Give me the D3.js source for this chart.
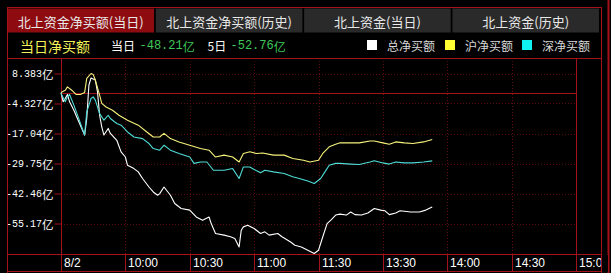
<!DOCTYPE html>
<html><head><meta charset="utf-8">
<script src="https://cdn.jsdelivr.net/npm/d3@7/dist/d3.min.js"></script>
<style>
html,body{margin:0;padding:0;background:#000;overflow:hidden;}
svg{display:block;}
</style></head>
<body>
<svg id="chart" width="611" height="273"></svg>
<script>
// ---------- data ----------
const tabLabels = ["北上资金净买额(当日)", "北上资金净买额(历史)", "北上资金(当日)", "北上资金(历史)"];
const titleText = "当日净买额";
const todayValue = "-48.21亿";
const fiveDayValue = "-52.76亿";
const seriesNames = ["总净买额", "沪净买额", "深净买额"];

// x: trading minutes from 09:30 (0..240, lunch break removed)
const xTickMinutes = [0, 30, 60, 90, 120, 150, 180, 210, 240];
const xTickLabels = ["8/2", "10:00", "10:30", "11:00", "11:30", "13:30", "14:00", "14:30", "15:00"];
const yTicks = [8.383, -4.327, -17.04, -29.75, -42.46, -55.17];
const yMin = -67.88, yMax = 8.383;

// 总净买额 (white)
const totalMinutes = [0,1,2,3,4,6,8,11,12,13,14,16,17,18,19,20,22,23,26,28,30,31,34,36,38,41,43,45,46,48,51,53,56,60,63,66,69,70,72,76,79,81,83,84,85,87,90,93,95,97,101,103,107,109,112,115,118,120,122,124,126,128,130,133,135,137,140,143,146,149,151,153,156,158,163,167,170,173];
const totalValues = [0.3,-3.6,-2.2,-0.5,-3.6,-7.2,-11.4,-17.7,-10.7,3.4,6.5,5.6,0.6,-9.3,-14.2,-17.7,-14.9,-17.0,-19.9,-24.8,-27.0,-30.5,-31.9,-33.3,-36.1,-39.7,-41.8,-43.2,-42.5,-39.7,-43.2,-46.7,-48.8,-49.5,-52.4,-53.8,-52.4,-55.2,-59.4,-60.1,-60.8,-61.5,-65.1,-58.0,-56.6,-55.9,-57.3,-59.4,-58.7,-60.1,-59.4,-60.8,-63.0,-64.4,-65.1,-66.5,-67.88,-66.5,-60.8,-55.2,-53.5,-51.6,-51.2,-51.6,-50.3,-51.4,-51.6,-50.7,-48.8,-49.5,-49.8,-51.4,-50.7,-49.8,-50.3,-50.3,-49.5,-48.21];

// 沪净买额 (yellow)
const shMinutes = [0,2,3,5,7,9,11,12,14,15,16,18,19,21,24,27,31,36,40,43,46,48,51,55,60,65,69,72,76,80,83,85,88,91,94,99,104,108,113,116,120,122,125,128,130,135,139,144,146,150,153,156,160,164,169,173];
const shValues = [0.3,1.3,2.7,1.3,-0.5,-0.5,0.3,6.3,8.383,8.0,5.6,-0.8,-4.3,-5.8,-7.2,-9.3,-11.4,-13.5,-16.4,-18.5,-18.5,-17.0,-19.2,-20.6,-22.0,-23.4,-24.1,-27.0,-26.2,-27.0,-29.1,-25.5,-24.8,-25.5,-25.3,-26.2,-26.2,-27.6,-28.4,-29.1,-28.4,-25.5,-22.7,-21.6,-21.0,-21.0,-21.0,-20.2,-20.2,-21.0,-21.6,-20.6,-21.0,-21.3,-20.6,-19.57];

// 深净买额 (cyan)
const szMinutes = [0,2,3,4,6,8,11,12,14,15,16,18,20,22,23,26,28,31,34,38,41,43,46,48,51,55,60,62,65,68,71,76,80,83,85,88,90,93,95,99,104,108,111,115,118,121,123,125,128,130,135,139,144,146,150,153,156,160,164,169,173];
const szValues = [-0.1,-3.6,-1.5,-0.5,-5.0,-10.0,-17.7,-7.9,-2.2,-1.5,-2.9,-8.6,-11.4,-9.3,-10.7,-12.8,-13.5,-16.4,-18.5,-19.2,-21.3,-23.4,-24.1,-22.0,-24.1,-25.5,-27.0,-29.7,-29.1,-29.1,-32.6,-32.6,-31.9,-36.1,-31.2,-31.2,-32.3,-33.7,-32.6,-33.3,-34.0,-35.4,-36.1,-37.2,-38.2,-36.1,-33.3,-30.5,-29.7,-29.7,-30.0,-30.2,-29.1,-28.6,-29.5,-30.0,-29.1,-29.5,-29.5,-29.1,-28.64];

// ---------- styles / layout ----------
const RED = "#a3111a", DOT = "#5c0a0e";
const CJK = "'Noto Sans CJK SC','Noto Sans',sans-serif";
const MONO = "'Liberation Mono','DejaVu Sans Mono',monospace";
const SANS = "'Liberation Sans',Arial,sans-serif";
const colors = {total: "#ffffff", sh: "#f6f27a", sz: "#4fdcd6"};
const legendSwatch = ["#ffffff", "#ffff33", "#11f0f0"];

const L = 61, R = 576, T = 58, AX = 254, B = 271, FL = 7, FR = 601, FT = 7;

const svg = d3.select("#chart");
const x = d3.scaleLinear().domain([0, 240]).range([L, R]);
const y = d3.scaleLinear().domain([yMin, yMax]).range([253.5, 73.5]);

// ---------- tabs ----------
const tabX = d3.scaleBand().domain(d3.range(tabLabels.length)).range([7.5, 599]).paddingInner(0.012);
const tabs = svg.append("g");
tabs.selectAll("rect").data(tabLabels).join("rect")
  .attr("x", (d, i) => tabX(i)).attr("y", 8.5).attr("width", tabX.bandwidth()).attr("height", 24)
  .attr("fill", (d, i) => i === 0 ? "#8e0c10" : "#2a2a2a");
tabs.selectAll("text").data(tabLabels).join("text")
  .attr("x", (d, i) => tabX(i) + tabX.bandwidth() / 2).attr("y", 21)
  .attr("text-anchor", "middle").attr("dominant-baseline", "central")
  .attr("font-family", CJK).attr("font-size", 13).attr("fill", "#e8e8e8").text(d => d);

// ---------- header legend row ----------
svg.append("text").attr("x", 20).attr("y", 45.5).attr("dominant-baseline", "central")
  .attr("font-family", CJK).attr("font-size", 14).attr("fill", "#f4f05a").text(titleText);
function valText(xp, label, val) {
  svg.append("text").attr("x", xp).attr("y", 45.5).attr("dominant-baseline", "central")
    .attr("font-family", CJK).attr("font-size", 12).attr("fill", "#ffffff").text(label);
  const t = svg.append("text").attr("x", xp + (label.length === 2 && label[0] !== "5" ? 28.5 : 23)).attr("y", 45.5)
    .attr("dominant-baseline", "central").attr("fill", "#3ec85a");
  t.append("tspan").attr("font-family", MONO).attr("font-size", 12).text(val.replace("亿", ""));
  t.append("tspan").attr("font-family", CJK).attr("font-size", 12).text("亿");
}
valText(111, "当日", todayValue);
valText(207.5, "5日", fiveDayValue);

const legX = [367, 445, 522];
seriesNames.forEach((n, i) => {
  svg.append("rect").attr("x", legX[i]).attr("y", 40).attr("width", 10).attr("height", 10).attr("fill", legendSwatch[i]);
  svg.append("text").attr("x", legX[i] + 20).attr("y", 45.5).attr("dominant-baseline", "central")
    .attr("font-family", CJK).attr("font-size", 12).attr("fill", "#d8d8d8").text(n);
});

// ---------- grid ----------
const grid = svg.append("g");
grid.selectAll(".hg").data(yTicks).join("line")
  .attr("x1", L).attr("x2", R).attr("y1", d => Math.round(y(d)) + 0.5).attr("y2", d => Math.round(y(d)) + 0.5)
  .attr("stroke", DOT).attr("stroke-dasharray", "1,2");
grid.selectAll(".vg").data(xTickMinutes.slice(1, -1)).join("line")
  .attr("x1", d => Math.round(x(d)) + 0.5).attr("x2", d => Math.round(x(d)) + 0.5).attr("y1", T).attr("y2", AX)
  .attr("stroke", DOT).attr("stroke-dasharray", "1,2");
// zero line
grid.append("line").attr("x1", L).attr("x2", R).attr("y1", Math.round(y(0)) + 0.5).attr("y2", Math.round(y(0)) + 0.5)
  .attr("stroke", RED);

// ---------- axes ----------
const yAxis = svg.append("g").attr("transform", `translate(${L + 0.5},0)`)
  .call(d3.axisLeft(y).tickValues(yTicks).tickSize(7).tickPadding(1).tickFormat(d => String(d)));
yAxis.select(".domain").remove();
yAxis.selectAll(".tick line").attr("stroke", RED);
yAxis.selectAll(".tick text").each(function (d) {
  const t = d3.select(this).text("").attr("fill", "#ffffff").attr("dy", null).attr("dominant-baseline", "central");
  t.append("tspan").attr("font-family", MONO).attr("font-size", 10).text(String(d));
  t.append("tspan").attr("font-family", CJK).attr("font-size", 11.5).text("亿");
});

const xAxis = svg.append("g").attr("transform", `translate(0,${AX})`)
  .call(d3.axisBottom(x).tickValues(xTickMinutes).tickSize(B - AX).tickFormat((d, i) => xTickLabels[i]));
xAxis.select(".domain").remove();
xAxis.selectAll(".tick").attr("transform", d => `translate(${Math.round(x(d)) + 0.5},0)`);
xAxis.selectAll(".tick line").attr("stroke", RED);
xAxis.selectAll(".tick text").attr("text-anchor", "start").attr("x", 2.5).attr("y", 13).attr("dy", null)
  .attr("font-family", SANS).attr("font-size", 12).attr("fill", "#ffffff");

// ---------- frame ----------
const frame = svg.append("g").attr("stroke", RED).attr("fill", "none");
frame.append("line").attr("x1", FL).attr("x2", FR).attr("y1", FT + 0.5).attr("y2", FT + 0.5);
frame.append("line").attr("x1", FL).attr("x2", FR).attr("y1", T + 0.5).attr("y2", T + 0.5);
frame.append("line").attr("x1", FL).attr("x2", FR).attr("y1", AX + 0.5).attr("y2", AX + 0.5);
frame.append("line").attr("x1", FL).attr("x2", FR).attr("y1", B + 0.5).attr("y2", B + 0.5);
frame.append("line").attr("x1", FL + 0.5).attr("x2", FL + 0.5).attr("y1", FT).attr("y2", 273);
frame.append("line").attr("x1", FR + 0.5).attr("x2", FR + 0.5).attr("y1", FT).attr("y2", 273);
frame.append("line").attr("x1", L + 0.5).attr("x2", L + 0.5).attr("y1", T).attr("y2", B);
frame.append("line").attr("x1", R + 0.5).attr("x2", R + 0.5).attr("y1", T).attr("y2", AX);
frame.append("line").attr("x1", 608.5).attr("x2", 608.5).attr("y1", 0).attr("y2", 273).attr("stroke-width", 2);

// clip x labels at right frame
svg.append("rect").attr("x", FR + 1).attr("y", AX + 1).attr("width", 6).attr("height", B - AX).attr("fill", "#000");

// ---------- series ----------
const line = d3.line().x(d => x(d[0])).y(d => y(d[1]));
const series = [
  {pts: d3.zip(totalMinutes, totalValues), c: colors.total},
  {pts: d3.zip(shMinutes, shValues), c: colors.sh},
  {pts: d3.zip(szMinutes, szValues), c: colors.sz}
];
svg.append("g").selectAll("path").data(series).join("path")
  .attr("d", d => line(d.pts)).attr("fill", "none").attr("stroke", d => d.c).attr("stroke-width", 1.1)
  .attr("stroke-linejoin", "round");
</script>
</body></html>
